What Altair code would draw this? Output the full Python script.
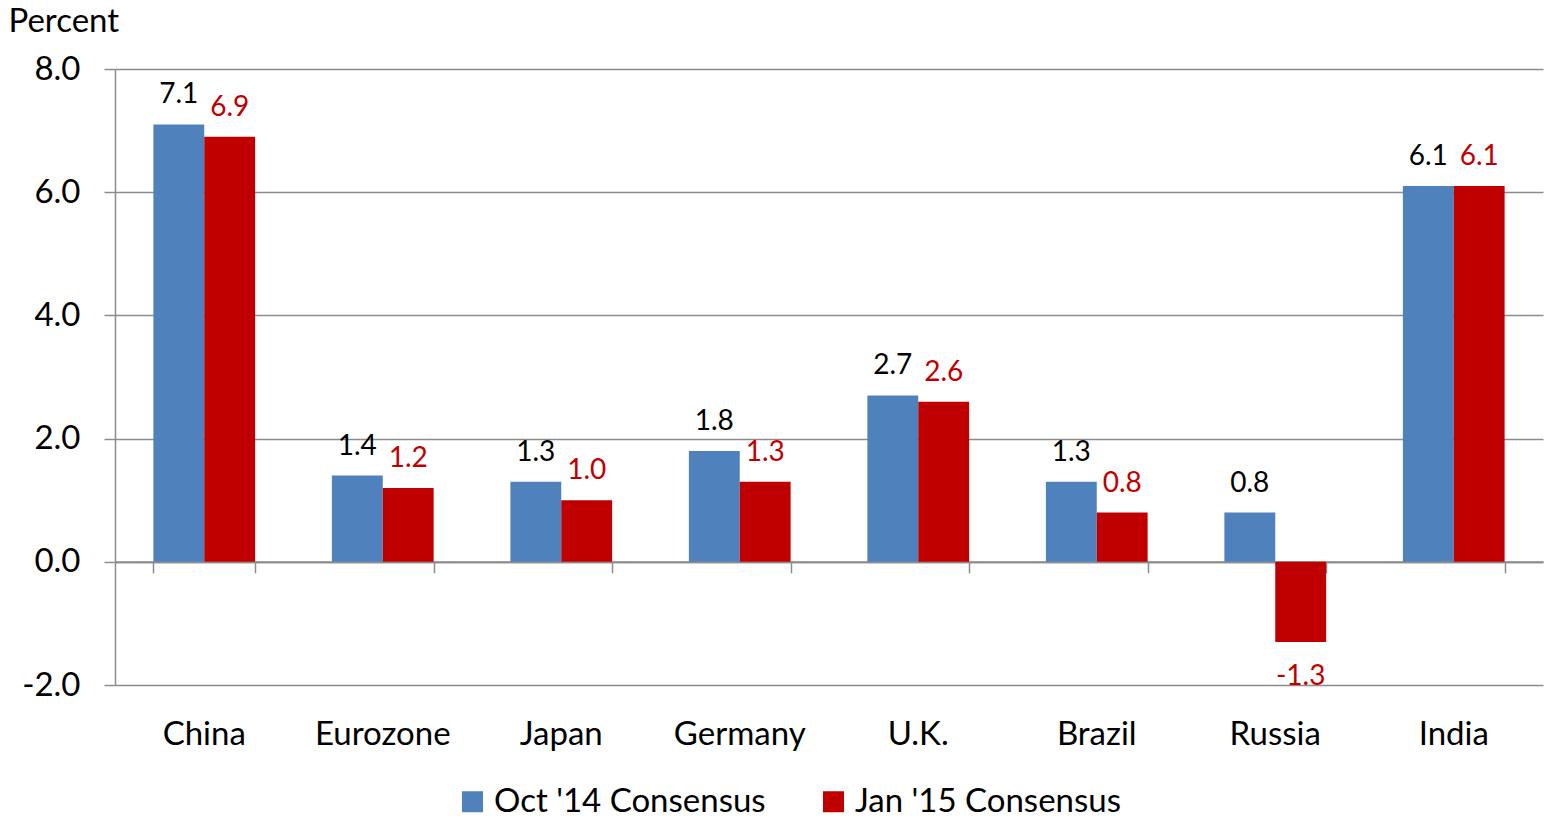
import altair as alt
import pandas as pd

# GDP growth forecasts by economy, two consensus vintages
countries = ["China", "Eurozone", "Japan", "Germany", "U.K.", "Brazil", "Russia", "India"]
oct14 = [7.1, 1.4, 1.3, 1.8, 2.7, 1.3, 0.8, 6.1]
jan15 = [6.9, 1.2, 1.0, 1.3, 2.6, 0.8, -1.3, 6.1]
series_names = ["Oct '14 Consensus", "Jan '15 Consensus"]
series_colors = ["#4F81BD", "#C00000"]
y_ticks = [-2, 0, 2, 4, 6, 8]

rows = []
for c, a, b in zip(countries, oct14, jan15):
    rows.append({"country": c, "series": series_names[0], "value": a})
    rows.append({"country": c, "series": series_names[1], "value": b})
df = pd.DataFrame(rows)

W, H = 1428, 616
Y_MIN, Y_MAX = -2, 8
FONT = "Lato"
GRID = "#8C8C8C"
zero_offset = -H * (0 - Y_MIN) / (Y_MAX - Y_MIN)

band = alt.Scale(domain=countries, paddingInner=0.43, paddingOuter=0.215)
yscale = alt.Scale(domain=[Y_MIN, Y_MAX], nice=False)
off = alt.Scale(domain=series_names, paddingInner=0, paddingOuter=0)
hyphen = "replace(format(datum.value, '.1f'), '\u2212', '-')"

y_axis = alt.Axis(
    values=y_ticks,
    labelExpr=hyphen,
    title="Percent",
    titleAngle=0,
    titleAlign="left",
    titleBaseline="alphabetic",
    titleX=-107,
    titleY=-38,
    titleFontSize=33,
    titleFontWeight="normal",
    titleColor="black",
    labelFontSize=33,
    labelColor="black",
    labelPadding=24,
    tickSize=11,
    tickColor=GRID,
    tickWidth=1.5,
    domainColor=GRID,
    domainWidth=1.5,
    grid=True,
    gridColor=GRID,
    gridWidth=1.5,
)

x_label_axis = alt.Axis(
    title=None,
    orient="bottom",
    domain=False,
    ticks=False,
    grid=False,
    labelAngle=0,
    labelFontSize=33,
    labelColor="black",
    labelBaseline="alphabetic",
    labelPadding=59,
)

x_enc = alt.X("country:N", scale=band, sort=countries, axis=x_label_axis)
off_enc = alt.XOffset("series:N", scale=off, sort=series_names)
y_enc = alt.Y("value:Q", scale=yscale, axis=y_axis)

base = alt.Chart(df).transform_calculate(label=hyphen)

bars = base.mark_bar().encode(
    x=x_enc,
    xOffset=off_enc,
    y=y_enc,
    color=alt.Color(
        "series:N",
        scale=alt.Scale(domain=series_names, range=series_colors),
        legend=alt.Legend(
            title=None,
            orient="none",
            direction="horizontal",
            legendX=341,
            legendY=716,
            symbolType="square",
            symbolSize=441,
            symbolStrokeWidth=0,
            labelFontSize=33,
            labelColor="black",
            labelLimit=500,
            labelOffset=5,
            columnPadding=51,
            padding=0,
        ),
    ),
)

label_color = alt.condition(
    alt.datum.series == series_names[1], alt.value(series_colors[1]), alt.value("black")
)

pos_text = base.transform_filter("datum.value >= 0").mark_text(
    baseline="alphabetic", dy=-21, fontSize=28
).encode(x=x_enc, xOffset=off_enc, y=y_enc, text="label:N", color=label_color)

neg_text = base.transform_filter("datum.value < 0").mark_text(
    baseline="alphabetic", dy=43, fontSize=28
).encode(x=x_enc, xOffset=off_enc, y=y_enc, text="label:N", color=label_color)

# zero line with category-boundary ticks
zero_axis = (
    alt.Chart(pd.DataFrame({"country": countries}))
    .transform_calculate(value="0")
    .mark_point(opacity=0)
    .encode(
        x=alt.X(
            "country:N",
            scale=band,
            sort=countries,
            axis=alt.Axis(
                title=None,
                orient="bottom",
                labels=False,
                grid=False,
                offset=zero_offset,
                tickBand="extent",
                tickSize=11,
                tickColor=GRID,
                tickWidth=1.5,
                domainColor=GRID,
                domainWidth=2,
            ),
        ),
        y=y_enc,
    )
)

chart = (
    alt.layer(alt.layer(bars, pos_text, neg_text), zero_axis)
    .resolve_scale(x="independent")
    .properties(
        width=W,
        height=H,
        autosize=alt.AutoSizeParams(type="none"),
        padding={"left": 115, "top": 69, "right": 5, "bottom": 136},
        background="white",
    )
    .configure(font=FONT)
    .configure_view(stroke=None)
)

chart.save("out.html", embed_options={"renderer": "svg", "actions": False})
